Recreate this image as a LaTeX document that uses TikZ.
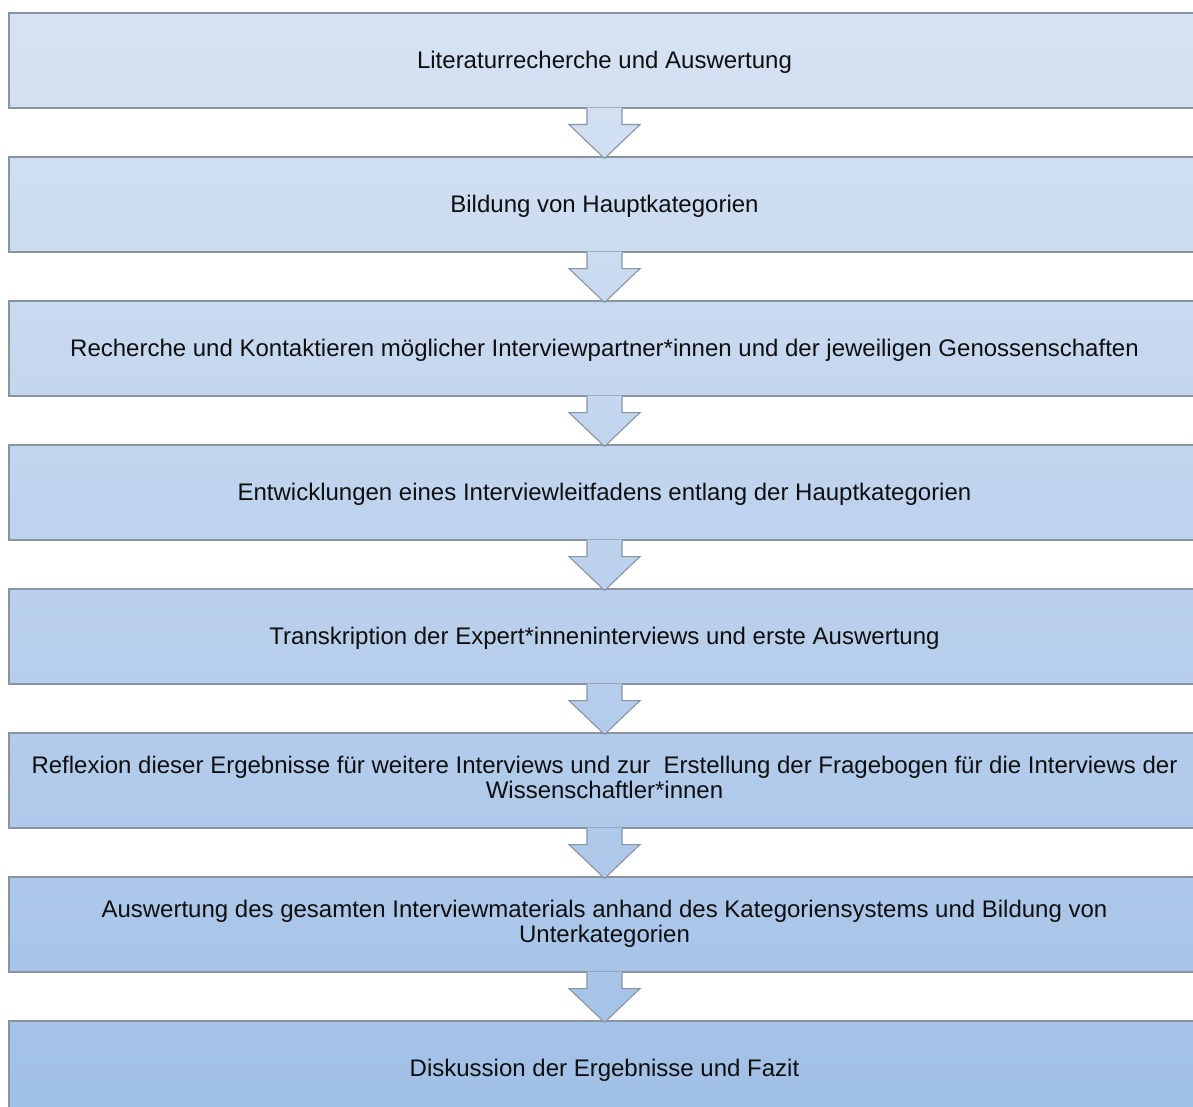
\documentclass[tikz,border=0pt]{standalone}
\usepackage{fontspec}
\setmainfont{Liberation Sans}
\usetikzlibrary{calc}
\definecolor{blight}{RGB}{215,227,243}
\definecolor{bdark}{RGB}{161,192,231}
\definecolor{bordergray}{RGB}{138,148,160}
\definecolor{txtc}{RGB}{15,15,15}
\tikzset{
  stepbox/.style={draw=bordergray, line width=1.1pt, minimum width=1191pt, minimum height=95pt,
    inner sep=0pt, align=center, text=txtc, font=\fontsize{24}{25}\selectfont},
  arrowshape/.style={draw=bordergray, line width=1.1pt, line join=miter}
}
\begin{document}
\begin{tikzpicture}[x=1pt,y=-1pt]
\useasboundingbox (0,0) rectangle (1193,1107);
\clip (0,0) rectangle (1193,1107);
\fill[white] (0,0) rectangle (1193,1107);
\foreach \i/\ys/\txt in {
  1/-2.25/{Literaturrecherche und Auswertung\vphantom{Lg}},
  2/-2.25/{Bildung von Hauptkategorien\vphantom{Lg}},
  3/-2.25/{Recherche und Kontaktieren möglicher Interviewpartner*innen und der jeweiligen Genossenschaften\vphantom{Lg}},
  4/-2.25/{Entwicklungen eines Interviewleitfadens entlang der Hauptkategorien\vphantom{Lg}},
  5/-2.25/{Transkription der Expert*inneninterviews und erste Auswertung\vphantom{Lg}},
  6/0.25/{Reflexion dieser Ergebnisse für weitere Interviews und zur\ \ Erstellung der Fragebogen für die Interviews der\vphantom{Lg}\\Wissenschaftler*innen\vphantom{Lg}},
  7/0.25/{Auswertung des gesamten Interviewmaterials anhand des Kategoriensystems und Bildung von\vphantom{Lg}\\Unterkategorien\vphantom{Lg}},
  8/-2.25/{Diskussion der Ergebnisse und Fazit\vphantom{Lg}}} {
  \pgfmathtruncatemacro\myTop{13+144*(\i-1)}
  \pgfmathsetmacro\myCy{\myTop+47.5}
  \pgfmathtruncatemacro\myPa{\myTop/11.07}
  \pgfmathtruncatemacro\myPb{(\myTop+95)/11.07}
  \colorlet{ctop}{bdark!\myPa!blight}
  \colorlet{cbot}{bdark!\myPb!blight}
  \node[stepbox, top color=ctop, bottom color=cbot] (b\i) at (604.5,\myCy) {};
  \node[text=txtc, font=\fontsize{24}{25}\selectfont, align=center, inner sep=0pt, yshift=\ys pt]
    (t\i) at (b\i.center) {\txt};
}
\foreach \i [evaluate=\i as \j using int(\i+1)] in {1,...,7} {
  \pgfmathtruncatemacro\myPa{(13+144*(\i-1)+95)/11.07}
  \pgfmathtruncatemacro\myPb{(13+144*(\i-1)+144)/11.07}
  \colorlet{ctop}{bdark!\myPa!blight}
  \colorlet{cbot}{bdark!\myPb!blight}
  \shade[top color=ctop, bottom color=cbot]
    ($(b\i.south)+(-17.5,-1)$) -- ($(b\i.south)+(-17.5,16)$) -- ($(b\i.south)+(-35.5,16)$)
    -- ($(b\j.north)+(0,2)$) -- ($(b\i.south)+(35.5,16)$) -- ($(b\i.south)+(17.5,16)$)
    -- ($(b\i.south)+(17.5,-1)$) -- cycle;
  \draw[arrowshape]
    ($(b\i.south)+(-17.5,0.5)$) -- ($(b\i.south)+(-17.5,16)$) -- ($(b\i.south)+(-35.5,16)$)
    -- ($(b\j.north)+(0,2)$) -- ($(b\i.south)+(35.5,16)$) -- ($(b\i.south)+(17.5,16)$)
    -- ($(b\i.south)+(17.5,0.5)$);
}
\end{tikzpicture}
\end{document}
